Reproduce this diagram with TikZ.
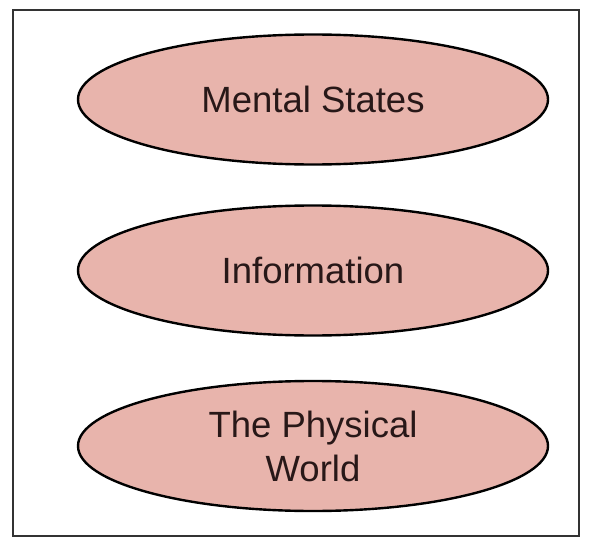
\documentclass[tikz,border=0pt]{standalone}
\usepackage{fontspec}
\setmainfont{Liberation Sans}
\usetikzlibrary{shapes.geometric}
\definecolor{levelpink}{RGB}{232,180,172}
\definecolor{leveltext}{RGB}{40,24,24}

\begin{document}
\begin{tikzpicture}[x=1pt, y=-1pt,
	level/.style={ellipse, draw=black, line width=2.4pt, fill=levelpink,
		minimum width=470pt, minimum height=130pt, inner sep=0pt,
		align=center, text=leveltext, font=\fontsize{36.5}{44}\selectfont}]
	\useasboundingbox (0,0) rectangle (590,546);
	\draw[line width=2pt, draw=black!80] (13,10) rectangle (579,536);
	\node[level] (mental) at (313,99.5) {Mental States};
	\node[level] (info) at (313,270.5) {Information};
	\node[level] (world) at (313,446) {The Physical\\World};
\end{tikzpicture}
\end{document}
